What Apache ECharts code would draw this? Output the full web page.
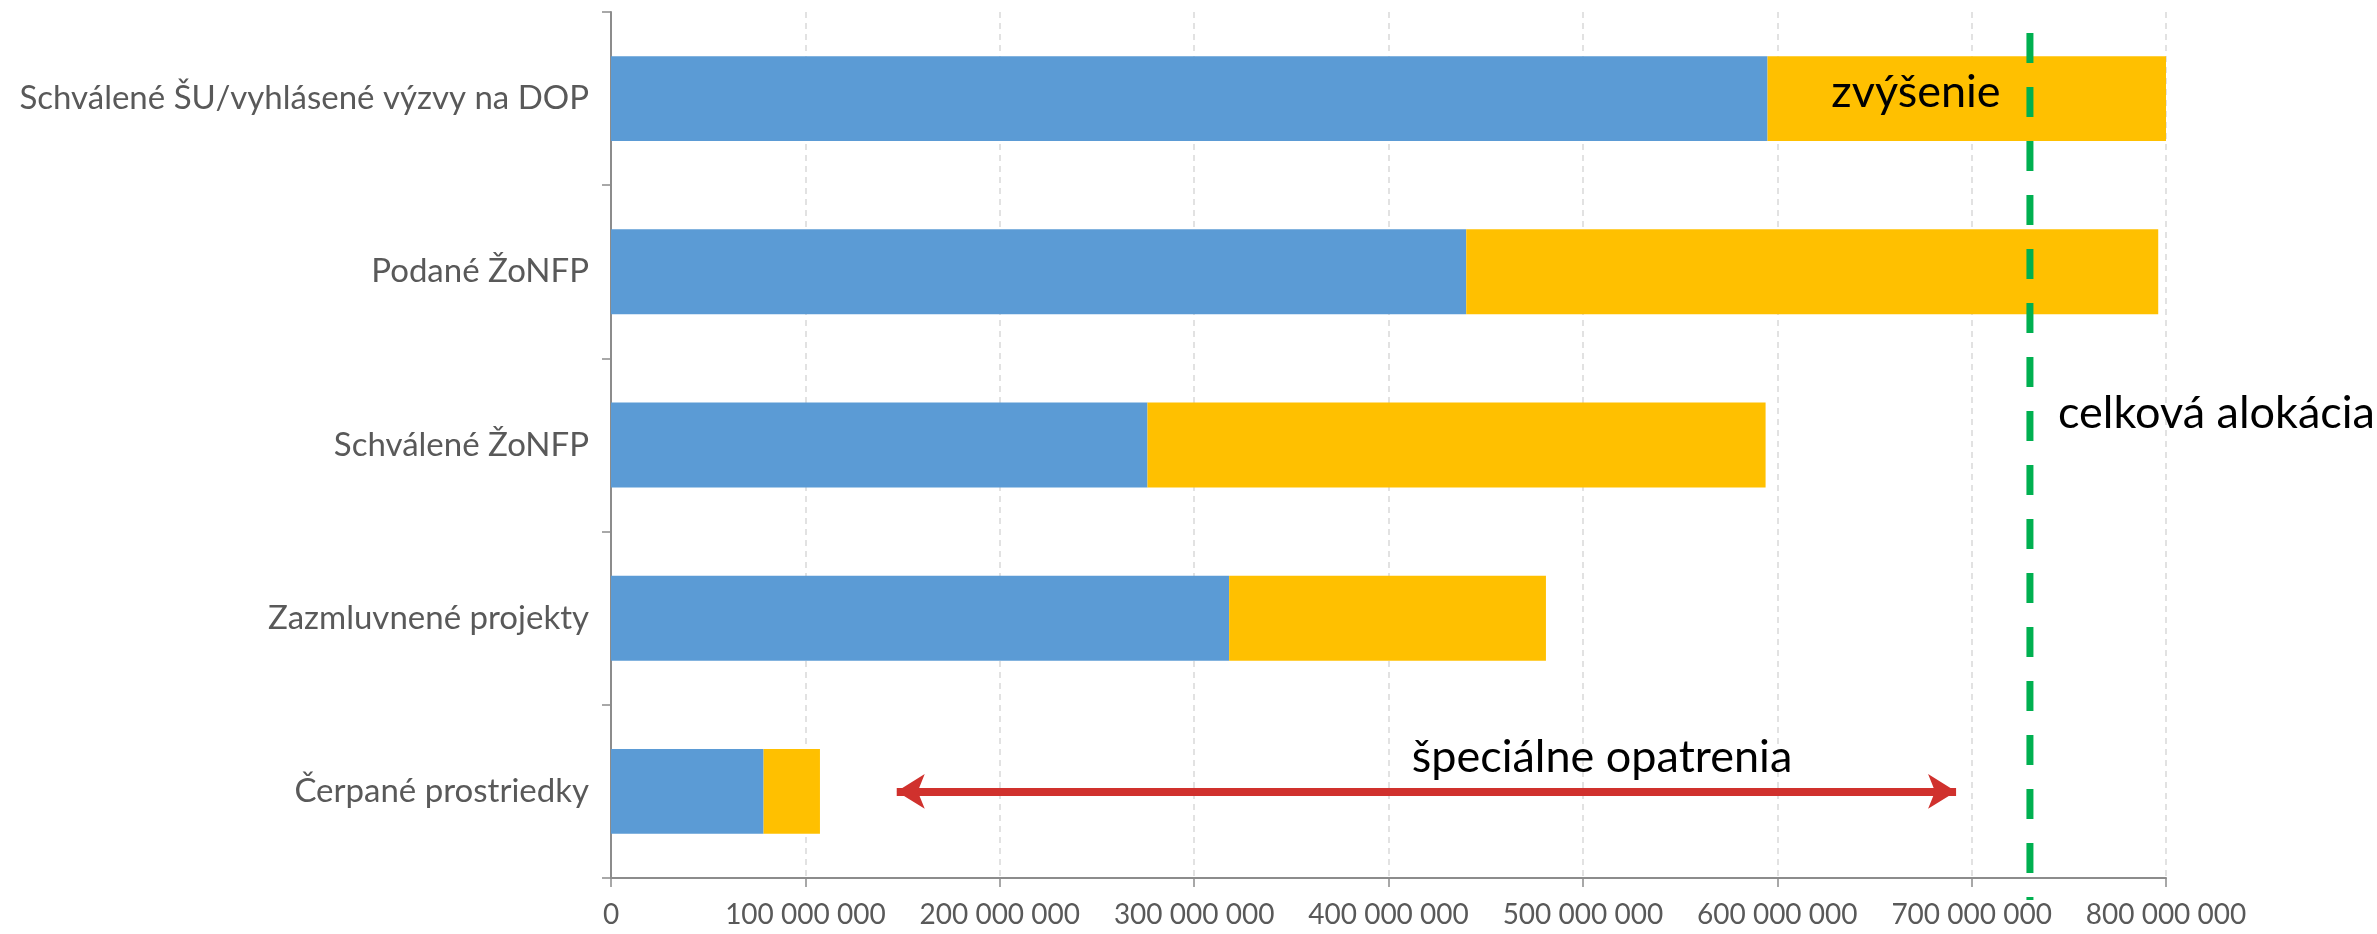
<!DOCTYPE html>
<html>
<head>
<meta charset="utf-8">
<script src="https://cdn.jsdelivr.net/npm/echarts@6/dist/echarts.min.js"></script>
<style>
html,body{margin:0;padding:0;background:#fff;}
#chart{width:2377px;height:934px;}
</style>
</head>
<body>
<div id="chart"></div>
<script>
// ---- data ----
var categories = [
  'Schválené ŠU/vyhlásené výzvy na DOP',
  'Podané ŽoNFP',
  'Schválené ŽoNFP',
  'Zazmluvnené projekty',
  'Čerpané prostriedky'
];
var baseValues = [595e6, 440e6, 276e6, 318e6, 78.5e6];
var increaseValues = [205e6, 356e6, 318e6, 163e6, 29e6];
var allocationValue = 730e6;
var arrowFrom = 147e6;
var arrowTo = 692e6;
var xTicks = [0, 100e6, 200e6, 300e6, 400e6, 500e6, 600e6, 700e6, 800e6];

function fmt(v) {
  return String(Math.round(v)).replace(/\B(?=(\d{3})+(?!\d))/g, ' ');
}

var chart = echarts.init(document.getElementById('chart'));
var FONT = 'Lato';

var option = {
  animation: false,
  backgroundColor: '#ffffff',
  grid: { left: 611, right: 211, top: 12, bottom: 56, containLabel: false },
  xAxis: {
    type: 'value',
    min: xTicks[0],
    max: xTicks[xTicks.length - 1],
    interval: xTicks[1] - xTicks[0],
    axisLine: { show: true, lineStyle: { color: '#8c8c8c', width: 2 } },
    axisTick: { show: true, length: 9, lineStyle: { color: '#8c8c8c', width: 1.5 } },
    axisLabel: {
      color: '#595959', fontFamily: FONT, fontSize: 28, margin: 23,
      formatter: function (v) { return fmt(v); }
    },
    splitLine: { show: true, lineStyle: { color: '#d9d9d9', width: 1.5, type: [6, 5] } }
  },
  yAxis: {
    type: 'category',
    data: categories,
    inverse: true,
    axisLine: { show: true, lineStyle: { color: '#8c8c8c', width: 2 } },
    axisTick: { show: true, length: 9, lineStyle: { color: '#8c8c8c', width: 1.5 } },
    axisLabel: { color: '#595959', fontFamily: FONT, fontSize: 33, margin: 22 },
    splitLine: { show: false }
  },
  series: [
    {
      name: 'base', type: 'bar', stack: 'total', data: baseValues,
      barWidth: '49%', itemStyle: { color: '#5B9BD5' }
    },
    {
      name: 'increase', type: 'bar', stack: 'total', data: increaseValues,
      barWidth: '49%', itemStyle: { color: '#FFC000' },
      markLine: {
        silent: true,
        symbol: ['arrow', 'arrow'],
        symbolSize: [26, 28],
        lineStyle: { color: '#D0312D', width: 8, type: 'solid' },
        label: { show: false },
        data: [[
          { coord: [arrowFrom, categories[4]] },
          { coord: [arrowTo, categories[4]] }
        ]]
      }
    }
  ]
};
chart.setOption(option);

var gx = chart.convertToPixel({ xAxisIndex: 0 }, allocationValue);
var gridRect = chart.getModel().getComponent('grid').coordinateSystem.getRect();

chart.setOption({
  graphic: [
    {
      type: 'line', z: 100,
      shape: { x1: gx, y1: gridRect.y + 21, x2: gx, y2: gridRect.y + gridRect.height + 22 },
      style: { stroke: '#00B050', lineWidth: 7, lineDash: [30, 24] }
    },
    {
      type: 'text', z: 101, x: 1916, y: 92,
      style: { text: 'zvýšenie', fill: '#000', font: '45px Lato', textAlign: 'center', textVerticalAlign: 'middle' }
    },
    {
      type: 'text', z: 101, x: 2058, y: 413,
      style: { text: 'celková alokácia', fill: '#000', font: '45px Lato', textAlign: 'left', textVerticalAlign: 'middle' }
    },
    {
      type: 'text', z: 101, x: 1602, y: 757,
      style: { text: 'špeciálne opatrenia', fill: '#000', font: '45px Lato', textAlign: 'center', textVerticalAlign: 'middle' }
    }
  ]
});
</script>
</body>
</html>
